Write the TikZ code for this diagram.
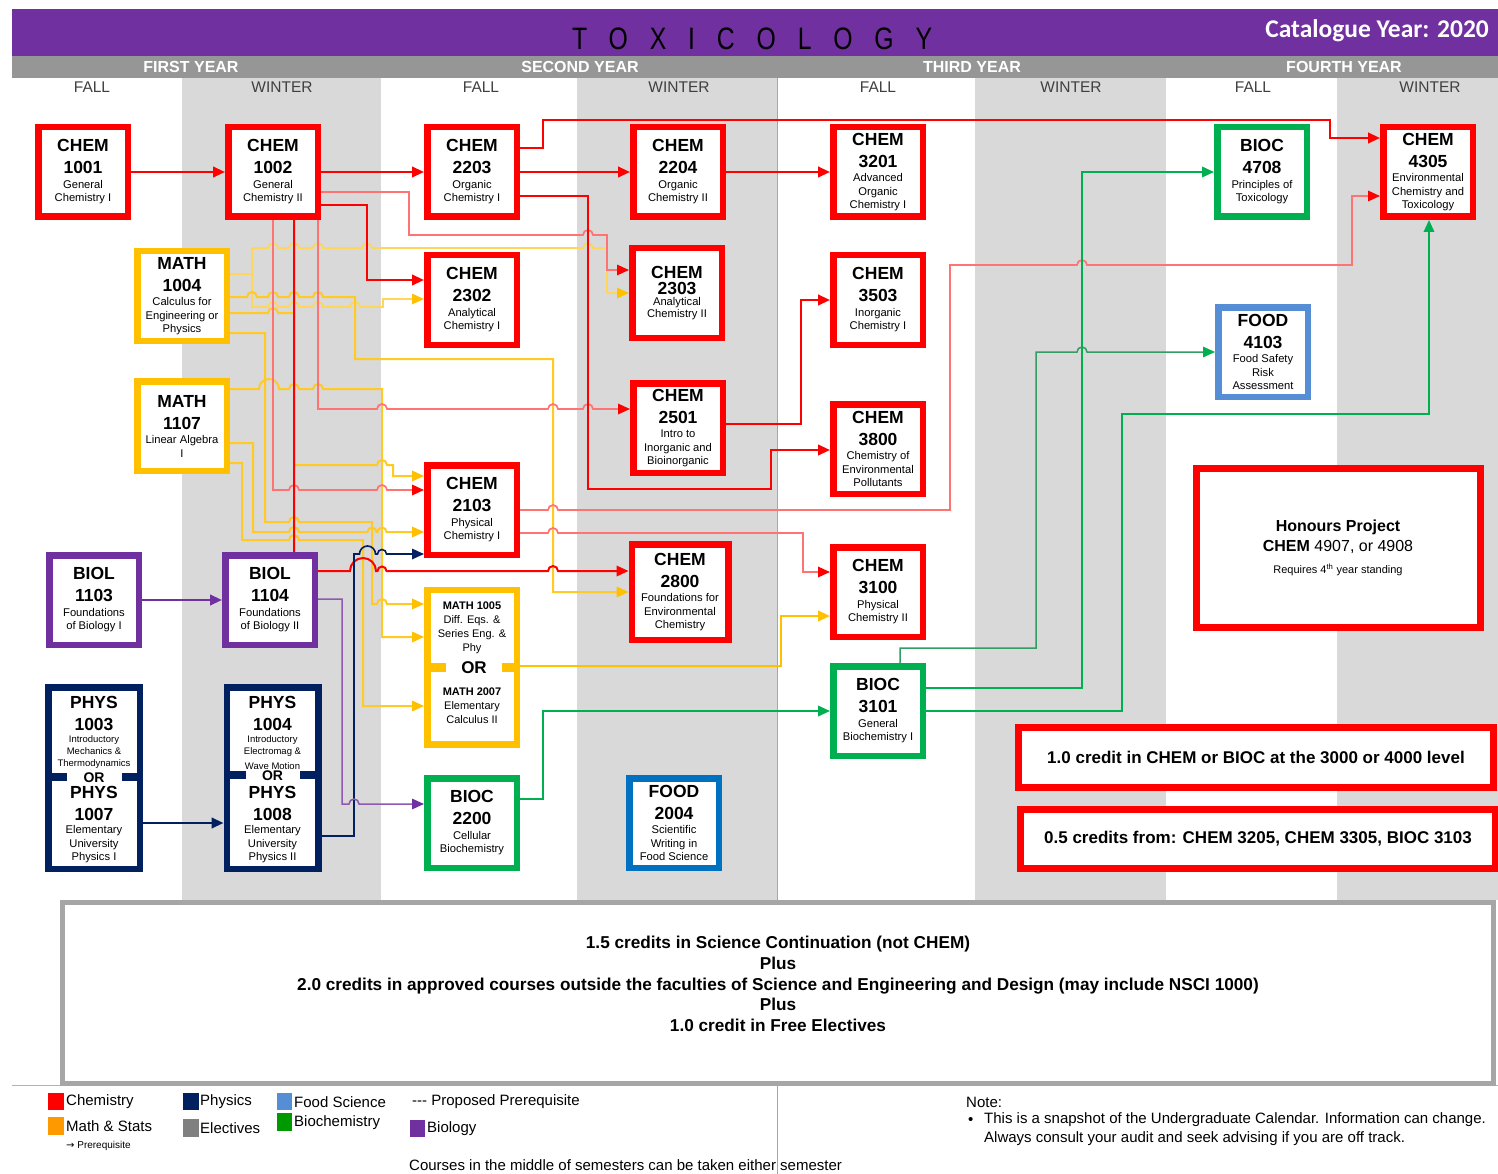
\documentclass[tikz,border=0pt]{standalone}
\usepackage{fontspec}
\usepackage{graphicx}
\setmainfont{Liberation Sans}
\newfontfamily\calibfont{Carlito}
\newfontfamily\djvfont{DejaVu Sans}
\usetikzlibrary{arrows.meta}
\definecolor{cred}{HTML}{FF0000}
\definecolor{corange}{HTML}{FFC000}
\definecolor{corangeL}{HTML}{FF9900}
\definecolor{cgreen}{HTML}{00B050}
\definecolor{cgreenL}{HTML}{009900}
\definecolor{cpurple}{HTML}{7030A0}
\definecolor{cnavy}{HTML}{002060}
\definecolor{cblue}{HTML}{0070C0}
\definecolor{clblue}{HTML}{558ED5}
\definecolor{ccol}{HTML}{D9D9D9}
\definecolor{cbar}{HTML}{969696}
\definecolor{csem}{HTML}{404040}
\definecolor{cgrayb}{HTML}{A6A6A6}
\definecolor{cgrayl}{HTML}{808080}
\pgfdeclarelayer{back}
\pgfdeclarelayer{lines}
\pgfsetlayers{back,lines,main}
\newcommand\codef{\fontsize{17.5}{22}\selectfont\bfseries}
\newcommand\descf{\fontsize{11.2}{13.5}\selectfont\mdseries}
\newcommand\crs[3]{\parbox{88pt}{\centering\codef #1\par #2\par\vspace{1pt}\descf #3\par}}
\newcommand\crsT[3]{\parbox{88pt}{\centering\fontsize{17.5}{16}\selectfont\bfseries #1\par #2\par\fontsize{11.2}{11.5}\selectfont\mdseries #3\par}}
\newcommand\hp[2]{-- ({#1-5},#2) arc[start angle=180,end angle=0,radius=5pt]}
\newcommand\hpr[3]{-- ({#2-#1},#3) arc[start angle=180,end angle=0,radius=#1pt]}
\tikzset{
  cbox/.style={draw=#1, line width=6.5pt, fill=white, inner sep=0pt, minimum width=89.5pt, minimum height=89.5pt, text=black},
  arrtip/.style={-{Triangle[length=12pt,width=10.5pt,color=#1]}},
  redA/.style={draw=cred, line width=2.4pt, arrtip=cred},
  redB/.style={draw=cred!55, line width=1.7pt, arrtip=cred},
  oraA/.style={draw=corange!85, line width=2pt, arrtip=corange},
  oraB/.style={draw=corange!65, line width=1.7pt, arrtip=corange},
  navA/.style={draw=cnavy, line width=2.4pt, arrtip=cnavy},
  navB/.style={draw=cnavy, line width=1.6pt, arrtip=cnavy},
  purA/.style={draw=cpurple, line width=2.4pt, arrtip=cpurple},
  purB/.style={draw=cpurple!80, line width=1.5pt, arrtip=cpurple},
  grnA/.style={draw=cgreen, line width=2pt, arrtip=cgreen},
  grnB/.style={draw=cgreen!60!gray, line width=1.5pt, arrtip=cgreen},
  yr/.style={font=\fontsize{16}{16}\selectfont\bfseries, text=white, inner sep=0pt},
  sem/.style={font=\fontsize{15.5}{16}\selectfont, text=csem, inner sep=0pt},
  lg/.style={font=\fontsize{15}{16}\selectfont, inner sep=0pt, anchor=west},
  txt/.style={inner sep=0pt, align=center},
}
\begin{document}
\begin{tikzpicture}[x=1pt,y=-1pt]
\useasboundingbox (0,0) rectangle (1498,1174);
\begin{pgfonlayer}{back}
\fill[white] (0,0) rectangle (1498,1174);
\fill[cpurple] (12,9) rectangle (1498,56);
\fill[cbar] (12,56) rectangle (1498,78);
\foreach \a/\b in {182/381,577/777,975/1166,1337/1498} \fill[ccol] (\a,78) rectangle (\b,900);
\draw[gray!70,line width=1pt] (777,78) -- (777,1174);
\draw[gray!60,line width=1pt] (12,1085) -- (1498,1085);
\end{pgfonlayer}

% header
\node[anchor=west, inner sep=0pt] (title) at (572,39) {\scalebox{0.8}[1]{\fontsize{31}{31}\selectfont\addfontfeature{LetterSpace=88}TOXICOLOGY}};
\node[anchor=east, inner sep=0pt, text=white] (cat) at (1489,31) {\calibfont\bfseries\fontsize{25.5}{25.5}\selectfont Catalogue Year: 2020};
\node[yr] (y1) at (191,67) {FIRST YEAR};
\node[yr] (y2) at (580,67) {SECOND YEAR};
\node[yr] (y3) at (972,67) {THIRD YEAR};
\node[yr] (y4) at (1344,67) {FOURTH YEAR};
\node[sem] (s1) at (92,87) {FALL};
\node[sem] (s2) at (282,87) {WINTER};
\node[sem] (s3) at (481,87) {FALL};
\node[sem] (s4) at (679,87) {WINTER};
\node[sem] (s5) at (878,87) {FALL};
\node[sem] (s6) at (1071,87) {WINTER};
\node[sem] (s7) at (1253,87) {FALL};
\node[sem] (s8) at (1430,87) {WINTER};

% course boxes
\node[cbox=cred] (c1001) at (83,172) {\crs{CHEM}{1001}{General\\Chemistry I}};
\node[cbox=cred] (c1002) at (273,172) {\crs{CHEM}{1002}{General\\Chemistry II}};
\node[cbox=cred] (c2203) at (472,172) {\crs{CHEM}{2203}{Organic\\Chemistry I}};
\node[cbox=cred] (c2204) at (678,172) {\crs{CHEM}{2204}{Organic\\Chemistry II}};
\node[cbox=cred] (c3201) at (878,172) {\crs{CHEM}{3201}{Advanced\\Organic\\Chemistry I}};
\node[cbox=cgreen] (b4708) at (1262,172) {\crs{BIOC}{4708}{Principles of\\Toxicology}};
\node[cbox=cred] (c4305) at (1428,172) {\crs{CHEM}{4305}{Environmental\\Chemistry and\\Toxicology}};
\node[cbox=corange] (m1004) at (182,296) {\crs{MATH}{1004}{Calculus for\\Engineering or\\Physics}};
\node[cbox=cred] (c2302) at (472,300) {\crs{CHEM}{2302}{Analytical\\Chemistry I}};
\node[cbox=cred] (c2303) at (677,293) {\crsT{CHEM}{2303}{Analytical\\Chemistry II}};
\node[cbox=cred] (c3503) at (878,300) {\crs{CHEM}{3503}{Inorganic\\Chemistry I}};
\node[cbox=clblue] (f4103) at (1263,352) {\crs{FOOD}{4103}{Food Safety\\Risk\\Assessment}};
\node[cbox=corange] (m1107) at (182,426) {\crs{MATH}{1107}{Linear Algebra\\I}};
\node[cbox=cred] (c2501) at (678,428) {\crs{CHEM}{2501}{Intro to\\Inorganic and\\Bioinorganic}};
\node[cbox=cred] (c3800) at (878,449) {\crs{CHEM}{3800}{Chemistry of\\Environmental\\Pollutants}};
\node[cbox=cred] (c2103) at (472,510) {\crs{CHEM}{2103}{Physical\\Chemistry I}};
\node[cbox=cpurple] (biol1103) at (94,600) {\crs{BIOL}{1103}{Foundations\\of Biology I}};
\node[cbox=cpurple] (biol1104) at (270,600) {\crs{BIOL}{1104}{Foundations\\of Biology II}};
\node[cbox=cred, minimum width=96.5pt, minimum height=95.5pt] (c2800) at (680,592) {\crs{CHEM}{2800}{Foundations for\\Environmental\\Chemistry}};
\node[cbox=cred] (c3100) at (878,592) {\crs{CHEM}{3100}{Physical\\Chemistry II}};
\node[cbox=cgreen] (b3101) at (878,711) {\crs{BIOC}{3101}{General\\Biochemistry I}};
\node[cbox=cgreen] (b2200) at (472,823) {\crs{BIOC}{2200}{Cellular\\Biochemistry}};
\node[cbox=cblue] (f2004) at (674,823) {\crs{FOOD}{2004}{Scientific\\Writing in\\Food Science}};

% MATH 1005 / 2007
\node[cbox=corange, minimum height=154.5pt] (m1005) at (472,667) {};
\fill[corange] (424,663) rectangle (446,672);
\fill[corange] (502,663) rectangle (520,672);
\node[txt, font=\fontsize{11}{14}\selectfont] (m1005a) at (472,628) {\textbf{MATH 1005}\\Diff. Eqs. \&\\Series Eng. \&\\Phy};
\node[txt, font=\fontsize{17}{17}\selectfont\bfseries] (m1005or) at (474,668) {OR};
\node[txt, font=\fontsize{11}{14}\selectfont] (m1005b) at (472,706) {\textbf{MATH 2007}\\Elementary\\Calculus II};

% PHYS boxes
\node[cbox=cnavy, minimum width=91.5pt, minimum height=181.5pt] (phys1) at (94,778) {};
\node[cbox=cnavy, minimum width=91.5pt, minimum height=181.5pt] (phys2) at (272.5,778) {};
\fill[cnavy] (45,773) rectangle (67,781);
\fill[cnavy] (122,773) rectangle (143,781);
\fill[cnavy] (224,771) rectangle (246,779);
\fill[cnavy] (300,771) rectangle (321,779);
\node[anchor=north, inner sep=0pt] (p1a) at (94,696.5) {\parbox{90pt}{\centering\codef PHYS\par 1003\par\fontsize{9.5}{11.8}\selectfont\mdseries Introductory\\Mechanics \&\\Thermodynamics\par}};
\node[txt, font=\fontsize{14}{14}\selectfont\bfseries] (p1or) at (94,778) {OR};
\node[anchor=north, inner sep=0pt] (p1b) at (94,785.7) {\parbox{90pt}{\centering\codef PHYS\par 1007\par\descf Elementary\\University\\Physics I\par}};
\node[anchor=north, inner sep=0pt] (p2a) at (272.5,696.5) {\parbox{90pt}{\centering\codef PHYS\par 1004\par\fontsize{9.5}{11.8}\selectfont\mdseries Introductory\\Electromag \&\par}};
\begin{scope}
\clip (230,755) rectangle (316,768);
\node[txt, font=\fontsize{9.5}{11}\selectfont] (p2w) at (272.5,766) {Wave Motion};
\end{scope}
\node[txt, font=\fontsize{14}{14}\selectfont\bfseries] (p2or) at (272.5,776) {OR};
\node[anchor=north, inner sep=0pt] (p2b) at (272.5,785.7) {\parbox{90pt}{\centering\codef PHYS\par 1008\par\descf Elementary\\University\\Physics II\par}};

% honours and credit boxes
\node[cbox=cred, line width=7pt, minimum width=284pt, minimum height=159pt] (hon) at (1338,548) {};
\node[txt, font=\fontsize{16}{16}\selectfont\bfseries] (hon1) at (1338,527) {Honours Project};
\node[txt, font=\fontsize{16}{16}\selectfont] (hon2) at (1338,547) {\textbf{CHEM} 4907, or 4908};
\node[txt, font=\fontsize{11}{11}\selectfont] (hon3) at (1338,570) {Requires 4\textsuperscript{th} year standing};
\node[cbox=cred, line width=7pt, minimum width=475pt, minimum height=60pt, font=\fontsize{17}{17}\selectfont\bfseries] (cr10) at (1256,757) {1.0 credit in CHEM or BIOC at the 3000 or 4000 level};
\node[cbox=cred, line width=7pt, minimum width=475pt, minimum height=59pt, font=\fontsize{17}{17}\selectfont\bfseries] (cr05) at (1258,839) {0.5 credits from: CHEM 3205, CHEM 3305, BIOC 3103};

% bottom box
\node[draw=cgrayb, line width=5pt, fill=white, minimum width=1431pt, minimum height=181pt, inner sep=0pt] (bot) at (778,993) {};
\node[txt, font=\fontsize{17.2}{20.8}\selectfont\bfseries] (bottxt) at (778,984) {1.5 credits in Science Continuation (not CHEM)\\Plus\\2.0 credits in approved courses outside the faculties of Science and Engineering and Design (may include NSCI 1000)\\Plus\\1.0 credit in Free Electives};

% legend
\fill[cred] (48,1093) rectangle (64,1110);
\node[lg] (l1) at (66,1102) {Chemistry};
\fill[corangeL] (48,1117) rectangle (64,1135);
\node[lg] (l2) at (66,1126) {Math \& Stats};
\node[lg, font=\fontsize{10}{10}\selectfont] (l3) at (66,1146) {{\djvfont →} Prerequisite};
\fill[cnavy] (183,1093) rectangle (199,1110);
\node[lg] (l4) at (200,1102) {Physics};
\fill[cgrayl] (183,1119) rectangle (199,1137);
\node[lg] (l5) at (200,1128) {Electives};
\fill[clblue] (277,1093) rectangle (292,1110);
\node[lg] (l6) at (294,1102) {Food Science};
\fill[cgreenL] (277,1113) rectangle (292,1131);
\node[lg] (l7) at (294,1123) {Biochemistry};
\node[lg] (l8) at (412,1102) {-{}-{}- Proposed Prerequisite};
\fill[cpurple] (410,1120) rectangle (425,1137);
\node[lg] (l9) at (427,1129) {Biology};
\node[lg] (l10) at (409,1165) {Courses in the middle of semesters can be taken either semester};
\node[lg] (n1) at (966,1102) {Note:};
\node[lg] (n2) at (968,1121) {•};
\node[lg] (n3) at (984,1120) {This is a snapshot of the Undergraduate Calendar. Information can change.};
\node[lg] (n4) at (984,1139) {Always consult your audit and seek advising if you are off track.};

% connectors
\begin{pgfonlayer}{lines}
% orange
\draw[oraB] (m1004.east |- 0,274) -- (252,274) -- (252,248) \hp{273}{248}\hp{294}{248}\hp{318}{248}\hp{367}{248}\hp{588}{248} -- (607,248) -- (607,293) -- (c2303.west |- 0,293);
\draw[oraB] (252,274) -- (252,307) \hp{273}{307}\hp{294}{307}\hp{318}{307}\hp{355}{307} -- (383,307) -- (383,299) -- (c2302.west |- 0,299);
\draw[oraA] (m1004.east |- 0,297) \hp{252}{297}\hp{273}{297}\hp{294}{297}\hp{318}{297} -- (355,297) -- (355,359) -- (553,359) -- (553,592) -- (c2800.west |- 0,592);
\draw[oraA] (m1004.east |- 0,313) \hp{273}{313} -- (294,313) -- (294,465) \hp{382}{465} -- (393,465) -- (393,476) -- (c2103.west |- 0,476);
\draw[oraA] (m1004.east |- 0,333) -- (265,333) -- (265,522) \hp{294}{522} -- (372,522) -- (372,604) \hp{382}{604} -- (m1005.west |- 0,604);
\draw[oraA] (m1107.east |- 0,389) \hpr{10}{269}{389}\hp{294}{389}\hp{318}{389} -- (382,389) -- (382,637) -- (m1005.west |- 0,637);
\draw[oraA] (m1107.east |- 0,443) -- (253,443) -- (253,532) \hp{294}{532}\hpr{4.5}{372}{532}\hpr{4.5}{382}{532} -- (c2103.west |- 0,532);
\draw[oraA] (m1107.east |- 0,463) -- (242,463) -- (242,540) \hp{294}{540} -- (363,540) -- (363,706) -- (m1005.west |- 0,706);
\draw[oraA, draw=corange, line width=2.4pt] (m1005.east |- 0,666) -- (781,666) -- (781,616) -- (c3100.west |- 0,616);
% red
\draw[redA] (c1001.east) -- (c1002.west);
\draw[redA] (c1002.east) -- (c2203.west);
\draw[redB] (c1002.east |- 0,192) -- (409,192) -- (409,235) \hp{588}{235} -- (607,235) -- (607,270) -- (c2303.west |- 0,270);
\draw[redA] (c1002.east |- 0,205) -- (367,205) -- (367,280) -- (c2302.west |- 0,280);
\draw[redB] (c1002.south -| 273,0) -- (273,490) \hp{294}{490}\hp{382}{490} -- (c2103.west |- 0,490);
\draw[redA, line width=2pt] (c1002.south -| 294,0) -- (294,571) \hpr{13}{363}{571}\hpr{4.5}{382}{571}\hp{553}{571} -- (c2800.west |- 0,571);
\draw[redB] (c1002.south -| 318,0) -- (318,409) \hp{382}{409}\hp{553}{409}\hp{588}{409} -- (c2501.west |- 0,409);
\draw[redA] (c2203.east) -- (c2204.west);
\draw[redA] (c2203.east |- 0,148) -- (543,148) -- (543,120) -- (1330,120) -- (1330,138) -- (c4305.west |- 0,138);
\draw[redA] (c2203.east |- 0,196) -- (588,196) -- (588,489) -- (771,489) -- (771,450) -- (c3800.west |- 0,450);
\draw[redA] (c2204.east) -- (c3201.west);
\draw[redA] (c2501.east |- 0,424) -- (801,424) -- (801,300) -- (c3503.west |- 0,300);
\draw[redB] (c2103.east |- 0,510) \hp{553}{510} -- (950,510) -- (950,265) \hp{1082}{265} -- (1352,265) -- (1352,196) -- (c4305.west |- 0,196);
\draw[redB] (c2103.east |- 0,533) \hp{553}{533} -- (803,533) -- (803,572) -- (c3100.west |- 0,572);
% navy, purple, green
\draw[navA] (phys1.east |- 0,823) -- (phys2.west |- 0,823);
\draw[navB] (phys2.east |- 0,836) -- (354,836) -- (354,554) \hpr{8}{367.5}{554}\hpr{4.5}{382}{554} -- (c2103.west |- 0,554);
\draw[purA] (biol1103.east) -- (biol1104.west);
\draw[purB] (biol1104.east |- 0,599) -- (342,599) -- (342,804) \hp{354}{804} -- (b2200.west |- 0,804);
\draw[grnA] (b2200.east |- 0,799) -- (543,799) -- (543,711) -- (b3101.west |- 0,711);
\draw[grnB] (b3101.north -| 900,0) -- (900,648) -- (1036,648) -- (1036,352) \hp{1082}{352} -- (f4103.west |- 0,352);
\draw[grnA] (b3101.east |- 0,688) -- (1082,688) -- (1082,172) -- (b4708.west);
\draw[grnA] (b3101.east |- 0,711) -- (1122,711) -- (1122,414) -- (1429,414) -- (c4305.south -| 1429,0);
\end{pgfonlayer}
\end{tikzpicture}
\end{document}
